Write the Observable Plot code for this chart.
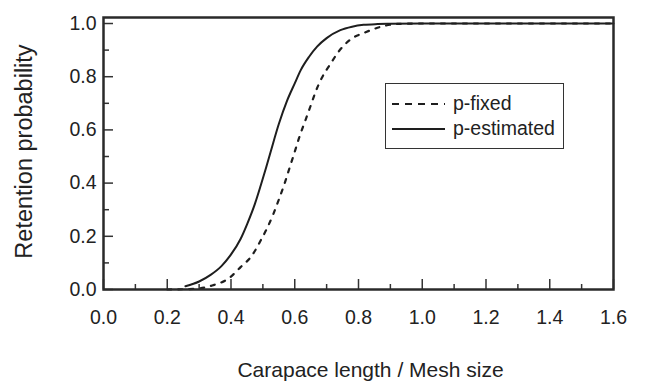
<!DOCTYPE html>
<html><head><meta charset="utf-8">
<script src="https://cdn.jsdelivr.net/npm/d3@7"></script>
<script src="https://cdn.jsdelivr.net/npm/@observablehq/plot@0.6"></script>
<style>
body{margin:0;background:#fff;}
#wrap{position:relative;width:646px;height:382px;font-family:"Liberation Sans",Arial,sans-serif;color:#222;}
#legend{position:absolute;left:385px;top:83px;width:179px;height:66px;box-sizing:border-box;border:1.5px solid #333;background:#fff;}
#legend svg{display:block;}
</style></head><body><div id="wrap"></div>
<script>
// Tick values
const xMajor = [0, 0.2, 0.4, 0.6, 0.8, 1.0, 1.2, 1.4, 1.6];
const xMinor = [0.1, 0.3, 0.5, 0.7, 0.9, 1.1, 1.3, 1.5];
const yMajor = [0, 0.2, 0.4, 0.6, 0.8, 1.0];
const yMinor = [0.1, 0.3, 0.5, 0.7, 0.9];

// p-estimated (solid)
const estX = [0.257, 0.30, 0.336, 0.37, 0.398, 0.43, 0.451, 0.475, 0.493, 0.51, 0.524, 0.55, 0.576, 0.60, 0.618, 0.645, 0.670, 0.70, 0.743, 0.78, 0.816, 0.86, 0.9, 1.0, 1.2, 1.4, 1.6];
const estY = [0.012, 0.03, 0.055, 0.088, 0.128, 0.19, 0.247, 0.322, 0.39, 0.458, 0.516, 0.622, 0.71, 0.775, 0.823, 0.875, 0.913, 0.945, 0.975, 0.988, 0.995, 0.998, 0.999, 1.0, 1.0, 1.0, 1.0];

// p-fixed (dashed)
const fixX = [0.20, 0.25, 0.30, 0.341, 0.393, 0.43, 0.466, 0.493, 0.513, 0.534, 0.55, 0.568, 0.581, 0.60, 0.613, 0.634, 0.649, 0.665, 0.686, 0.712, 0.738, 0.775, 0.822, 0.874, 0.932, 1.0, 1.2, 1.4, 1.6];
const fixY = [0.0, 0.001, 0.004, 0.015, 0.042, 0.084, 0.128, 0.184, 0.23, 0.287, 0.338, 0.398, 0.447, 0.518, 0.568, 0.638, 0.688, 0.742, 0.798, 0.848, 0.895, 0.94, 0.967, 0.989, 0.999, 1.0, 1.0, 1.0, 1.0];

const seriesNames = ["p-fixed", "p-estimated"];
const xTitle = "Carapace length / Mesh size";
const yTitle = "Retention probability";

const est = estX.map((x, i) => ({x, y: estY[i]}));
const fix = fixX.map((x, i) => ({x, y: fixY[i]}));

const ink = "#1e1e1e";
const fmt = d3.format(".1f");

const chart = Plot.plot({
  width: 646,
  height: 382,
  marginLeft: 103,
  marginRight: 33,
  marginTop: 17,
  marginBottom: 93,
  style: {fontFamily: '"Liberation Sans", Arial, sans-serif', fontSize: "19.5px", color: "#222", background: "#fff"},
  x: {domain: [0, 1.6]},
  y: {domain: [0, 1.0226]},
  marks: [
    Plot.line(fix, {x: "x", y: "y", curve: "monotone-x", stroke: ink, strokeWidth: 2.2, strokeDasharray: "4,7"}),
    Plot.line(est, {x: "x", y: "y", curve: "monotone-x", stroke: ink, strokeWidth: 2}),
    Plot.axisX(xMajor, {tickSize: -10, fill: "none", stroke: "#333", strokeWidth: 1.5, label: null}),
    Plot.axisX(xMinor, {tickSize: -5, fill: "none", stroke: "#333", strokeWidth: 1.5, label: null}),
    Plot.axisY(yMajor, {tickSize: -10, fill: "none", stroke: "#333", strokeWidth: 1.5, label: null}),
    Plot.axisY(yMinor, {tickSize: -6, fill: "none", stroke: "#333", strokeWidth: 1.5, label: null}),
    Plot.axisX(xMajor, {tickSize: 0, tickPadding: 21, tickFormat: fmt, label: null, fill: "#222", fontSize: 19.5}),
    Plot.axisY(yMajor, {tickSize: 0, tickPadding: 7, tickFormat: fmt, label: null, fill: "#222", fontSize: 19.5}),
    Plot.frame({stroke: "#2a2a2a", strokeWidth: 2.5}),
    Plot.text([xTitle], {frameAnchor: "bottom", dy: 81, dx: 12, lineAnchor: "middle", fontSize: 21, fill: "#222"}),
    Plot.text([yTitle], {frameAnchor: "left", rotate: -90, dx: -79, dy: -2, textAnchor: "middle", lineAnchor: "middle", fontSize: 23.5, fill: "#222"})
  ]
});

const wrap = document.getElementById("wrap");
wrap.appendChild(chart);

// Legend
const legend = document.createElement("div");
legend.id = "legend";
const ns = "http://www.w3.org/2000/svg";
const svg = document.createElementNS(ns, "svg");
svg.setAttribute("width", 176);
svg.setAttribute("height", 63);
const entries = [
  {name: seriesNames[0], dash: "7,6", y: 20},
  {name: seriesNames[1], dash: null, y: 45}
];
entries.forEach(e => {
  const l = document.createElementNS(ns, "line");
  l.setAttribute("x1", 6); l.setAttribute("x2", 59);
  l.setAttribute("y1", e.y); l.setAttribute("y2", e.y);
  l.setAttribute("stroke", ink);
  l.setAttribute("stroke-width", 2.2);
  if (e.dash) l.setAttribute("stroke-dasharray", e.dash);
  svg.appendChild(l);
  const t = document.createElementNS(ns, "text");
  t.setAttribute("x", 67);
  t.setAttribute("y", e.y + 6);
  t.setAttribute("font-size", "19.5px");
  t.setAttribute("font-family", '"Liberation Sans", Arial, sans-serif');
  t.setAttribute("fill", "#222");
  t.textContent = e.name;
  svg.appendChild(t);
});
legend.appendChild(svg);
wrap.appendChild(legend);
</script>
</body></html>
